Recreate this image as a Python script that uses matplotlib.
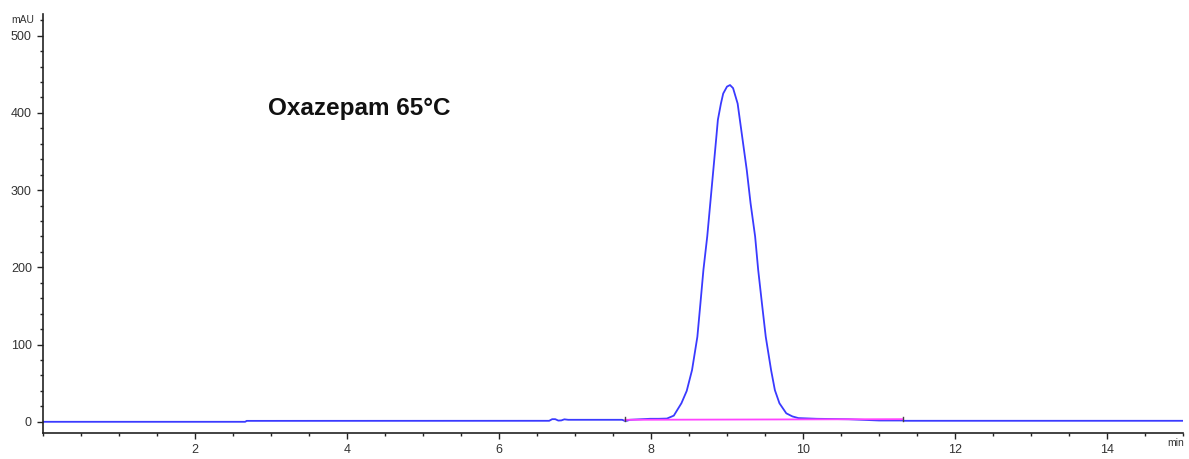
import matplotlib
matplotlib.use("Agg")
import matplotlib.pyplot as plt
from matplotlib.ticker import MultipleLocator, FixedLocator

# ---- data ----
time_min = [0.00, 2.66, 2.68, 6.66, 6.70, 6.74, 6.78, 6.82, 6.86, 6.91, 7.30, 7.62,
            7.66, 7.69, 7.72, 7.99, 8.10, 8.21, 8.30, 8.40, 8.47, 8.54, 8.61, 8.65,
            8.69, 8.74, 8.78, 8.82, 8.86, 8.88, 8.92, 8.95, 9.00, 9.04, 9.08, 9.14,
            9.20, 9.26, 9.31, 9.37, 9.41, 9.46, 9.51, 9.58, 9.63, 9.69, 9.78, 9.86,
            9.94, 10.18, 10.60, 11.00, 11.31, 11.33, 15.00]
signal_mau = [0.0, 0.0, 1.2, 1.3, 3.4, 3.4, 1.6, 1.8, 3.2, 2.6, 2.6, 2.6,
              1.0, 1.5, 2.6, 3.9, 3.9, 4.2, 8.0, 24.0, 40.0, 67.0, 110.0, 153.0,
              197.0, 240.0, 283.0, 326.0, 369.0, 391.0, 412.0, 425.0, 434.0, 436.0, 432.0, 412.0,
              369.0, 326.0, 283.0, 240.0, 197.0, 153.0, 110.0, 67.0, 41.0, 24.0, 11.0, 7.0,
              4.8, 3.9, 3.3, 1.7, 1.7, 1.3, 1.3]
baseline_time = [7.66, 11.31]
baseline_mau = [2.6, 3.4]
marker_time = [7.66, 11.31]

x_major = [2, 4, 6, 8, 10, 12, 14]
y_major = [0, 100, 200, 300, 400, 500]
title_text = "Oxazepam 65°C"

fig = plt.figure(figsize=(11.89, 4.59), dpi=100)
ax = fig.add_axes([43 / 1189, 1 - 433 / 459, 1140 / 1189, 419 / 459])

ax.plot(time_min, signal_mau, color="#3a3aff", lw=1.3, solid_joinstyle="round", zorder=2)
ax.plot(baseline_time, baseline_mau, color="#ff44ff", lw=1.3, zorder=3)
for t in marker_time:
    ax.plot([t, t], [1.5, 6.5], color="#444444", lw=1.0, zorder=4)

ax.set_xlim(0, 15)
ax.set_ylim(-14.5, 528)

for s in ["top", "right"]:
    ax.spines[s].set_visible(False)
for s in ["left", "bottom"]:
    ax.spines[s].set_color("#222222")
    ax.spines[s].set_linewidth(1.2)

ax.xaxis.set_major_locator(FixedLocator(x_major))
ax.xaxis.set_minor_locator(MultipleLocator(0.5))
ax.yaxis.set_major_locator(FixedLocator(y_major))
ax.yaxis.set_minor_locator(MultipleLocator(20))
ax.set_xticklabels([str(v) for v in x_major])
ax.set_yticklabels([str(v) for v in y_major])

ax.tick_params(which="major", direction="out", length=4, width=1.0, color="#222222",
               labelsize=9, labelcolor="#333333", pad=4)
ax.tick_params(which="minor", direction="out", length=2.5, width=1.0, color="#222222")
for lab in ax.get_xticklabels() + ax.get_yticklabels():
    lab.set_fontfamily("Liberation Sans")

fig.text(34 / 1189, 1 - 20 / 459, "mAU", ha="right", va="center", fontsize=7.5,
         color="#333333", family="Liberation Sans")
fig.text(1184 / 1189, 1 - 443 / 459, "min", ha="right", va="center", fontsize=7.5,
         color="#333333", family="Liberation Sans")

fig.text(268 / 1189, 1 - 108 / 459, title_text, ha="left", va="center", fontsize=17.5,
         fontweight="bold", color="#111111", family="Liberation Sans")

fig.savefig("out.png", dpi=100)
